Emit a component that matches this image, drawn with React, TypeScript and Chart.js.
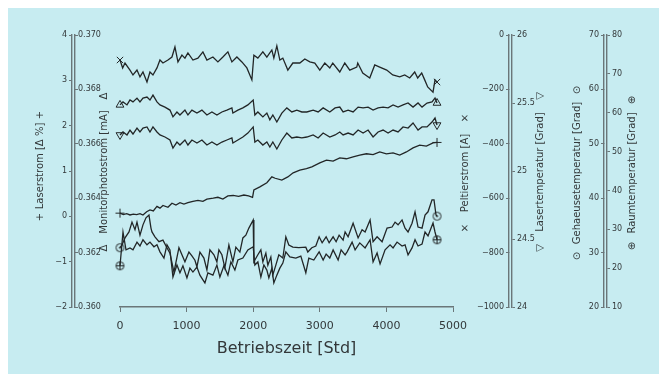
import React, { useEffect, useRef } from "react";
import { Chart, registerables } from "chart.js";

Chart.register(...registerables);

// ---------- tick values ----------
const xTicks = [0, 1000, 2000, 3000, 4000, 5000];
const laserstromTicks = [-2, -1, 0, 1, 2, 3, 4];
const monitorTicks = [0.36, 0.362, 0.364, 0.366, 0.368, 0.37];
const peltierTicks = [-1000, -800, -600, -400, -200, 0];
const lasertempTicks = [24, 24.5, 25, 25.5, 26];
const gehaeuseTicks = [20, 30, 40, 50, 60, 70];
const raumTicks = [10, 20, 30, 40, 50, 60, 70, 80];

// ---------- axis titles ----------
const xTitle = "Betriebszeit [Std]";
const axisTitles = [
  { text: "Laserstrom [Δ %]", marker: "+" },
  { text: "Monitorphotostrom [mA]", marker: "Δ" },
  { text: "Peltierstrom [A]", marker: "×" },
  { text: "Lasertemperatur [Grad]", marker: "▽" },
  { text: "Gehaeusetemperatur [Grad]", marker: "⊙" },
  { text: "Raumtemperatur [Grad]", marker: "⊕" },
];

// ---------- series (x = Betriebszeit in Std) ----------
const peltierHours = [0, 40, 75, 150, 195, 255, 300, 345, 405, 450, 495, 555, 600, 645, 720, 780, 825, 870, 930, 975, 1020, 1095, 1170, 1245, 1305, 1395, 1470, 1545, 1620, 1680, 1755, 1830, 1905, 1980, 2010, 2070, 2145, 2205, 2280, 2310, 2355, 2400, 2445, 2520, 2595, 2700, 2775, 2850, 2925, 3000, 3075, 3150, 3195, 3300, 3375, 3450, 3555, 3570, 3645, 3750, 3825, 3900, 4005, 4095, 4200, 4275, 4350, 4425, 4470, 4530, 4575, 4620, 4700, 4730, 4760];
const peltierValues = [-92, -121, -103, -129, -147, -129, -154, -136, -173, -136, -147, -121, -92, -103, -92, -81, -44, -99, -74, -85, -66, -92, -85, -62, -92, -81, -99, -81, -62, -99, -81, -99, -121, -165, -74, -85, -62, -81, -55, -85, -40, -92, -85, -129, -103, -103, -88, -99, -103, -129, -103, -121, -103, -136, -103, -129, -118, -103, -140, -158, -110, -118, -129, -147, -154, -147, -158, -136, -158, -140, -165, -191, -210, -165, -173];

const monitorHours = [0, 45, 105, 150, 195, 255, 300, 345, 405, 450, 495, 555, 600, 675, 750, 795, 855, 900, 975, 1020, 1080, 1155, 1230, 1305, 1380, 1455, 1530, 1605, 1680, 1695, 1770, 1845, 1920, 2000, 2025, 2070, 2145, 2205, 2250, 2295, 2355, 2430, 2505, 2580, 2655, 2730, 2805, 2900, 2975, 3050, 3150, 3230, 3300, 3350, 3425, 3500, 3575, 3650, 3725, 3800, 3875, 3950, 4025, 4100, 4175, 4250, 4325, 4400, 4475, 4535, 4610, 4685, 4730, 4760];
const monitorValues = [0.36743, 0.36754, 0.36743, 0.36761, 0.36754, 0.36768, 0.36754, 0.36768, 0.36772, 0.36761, 0.36779, 0.36754, 0.36743, 0.36735, 0.36724, 0.36699, 0.36717, 0.36706, 0.36724, 0.36706, 0.36724, 0.36713, 0.36724, 0.36706, 0.36717, 0.36706, 0.36717, 0.36724, 0.36732, 0.36713, 0.36724, 0.36732, 0.36743, 0.36761, 0.36706, 0.36717, 0.36699, 0.36713, 0.36688, 0.36706, 0.3668, 0.36713, 0.36732, 0.36717, 0.36724, 0.36717, 0.36717, 0.36724, 0.36717, 0.36732, 0.36717, 0.36732, 0.36735, 0.36717, 0.36724, 0.36717, 0.36735, 0.36732, 0.36735, 0.36724, 0.36732, 0.36735, 0.36732, 0.36743, 0.36735, 0.36743, 0.3675, 0.36735, 0.3675, 0.36735, 0.3675, 0.36754, 0.36768, 0.3675];

const lasertempHours = [0, 45, 105, 150, 195, 255, 300, 345, 405, 450, 495, 555, 600, 675, 750, 795, 855, 900, 975, 1020, 1080, 1155, 1230, 1305, 1380, 1455, 1530, 1605, 1680, 1695, 1770, 1845, 1920, 2000, 2025, 2070, 2145, 2205, 2250, 2295, 2355, 2430, 2505, 2580, 2655, 2730, 2805, 2900, 2975, 3050, 3150, 3230, 3300, 3350, 3425, 3500, 3575, 3650, 3725, 3800, 3875, 3950, 4025, 4100, 4175, 4250, 4325, 4400, 4475, 4535, 4610, 4685, 4730, 4760];
const lasertempValues = [25.265, 25.287, 25.265, 25.301, 25.272, 25.316, 25.287, 25.316, 25.324, 25.287, 25.324, 25.287, 25.265, 25.25, 25.228, 25.169, 25.213, 25.191, 25.228, 25.191, 25.228, 25.206, 25.228, 25.191, 25.213, 25.191, 25.213, 25.228, 25.243, 25.206, 25.228, 25.25, 25.279, 25.324, 25.213, 25.228, 25.191, 25.213, 25.176, 25.213, 25.162, 25.228, 25.279, 25.243, 25.25, 25.243, 25.25, 25.265, 25.243, 25.279, 25.25, 25.265, 25.287, 25.265, 25.279, 25.265, 25.301, 25.279, 25.301, 25.25, 25.287, 25.301, 25.279, 25.301, 25.287, 25.324, 25.316, 25.353, 25.301, 25.324, 25.324, 25.36, 25.39, 25.338];

const laserstromHours = [0, 50, 100, 150, 200, 250, 300, 345, 400, 450, 500, 555, 600, 645, 720, 780, 840, 900, 960, 1020, 1095, 1170, 1245, 1305, 1400, 1470, 1545, 1620, 1700, 1780, 1860, 1930, 1990, 2010, 2100, 2205, 2280, 2330, 2430, 2520, 2600, 2700, 2800, 2880, 3000, 3100, 3200, 3300, 3400, 3500, 3600, 3700, 3800, 3900, 4000, 4100, 4200, 4300, 4400, 4500, 4600, 4700, 4760];
const laserstromValues = [0.07, 0.04, 0.06, 0.03, 0.05, 0.04, 0.06, 0.03, 0.1, 0.14, 0.12, 0.22, 0.18, 0.24, 0.2, 0.29, 0.25, 0.3, 0.27, 0.3, 0.33, 0.35, 0.33, 0.38, 0.4, 0.42, 0.38, 0.45, 0.46, 0.44, 0.47, 0.45, 0.42, 0.58, 0.65, 0.74, 0.87, 0.84, 0.8, 0.87, 0.96, 1.02, 1.05, 1.09, 1.18, 1.24, 1.22, 1.29, 1.27, 1.31, 1.35, 1.38, 1.36, 1.42, 1.38, 1.4, 1.35, 1.42, 1.51, 1.57, 1.55, 1.62, 1.63];

const gehaeuseHours = [0, 30, 75, 135, 180, 225, 255, 300, 345, 390, 435, 465, 480, 525, 585, 645, 705, 750, 810, 885, 930, 975, 1035, 1080, 1125, 1155, 1200, 1260, 1305, 1350, 1410, 1455, 1485, 1530, 1575, 1635, 1695, 1740, 1800, 1845, 1890, 1935, 2000, 2010, 2070, 2115, 2145, 2190, 2220, 2265, 2295, 2340, 2385, 2445, 2490, 2535, 2595, 2685, 2790, 2820, 2880, 2940, 2990, 3035, 3095, 3140, 3200, 3245, 3290, 3350, 3380, 3425, 3500, 3575, 3635, 3680, 3755, 3800, 3860, 3935, 4010, 4085, 4130, 4175, 4235, 4280, 4325, 4385, 4430, 4475, 4535, 4580, 4625, 4685, 4715, 4745, 4760];
const gehaeuseValues = [30.9, 31.4, 32.7, 33.8, 35.6, 34.2, 35.6, 33.2, 35.1, 36.4, 36.9, 34.5, 33.8, 32.9, 32.0, 32.3, 30.9, 29.9, 26.4, 30.9, 29.6, 28.3, 30.1, 29.4, 28.6, 27.4, 30.1, 29.0, 26.8, 30.5, 29.6, 28.3, 30.5, 29.6, 27.2, 31.4, 28.3, 31.0, 30.1, 32.7, 33.2, 34.5, 36.0, 28.3, 29.6, 30.5, 28.3, 29.9, 27.7, 29.2, 25.9, 27.7, 29.6, 29.0, 32.9, 31.4, 31.0, 30.9, 31.0, 30.1, 30.9, 31.2, 32.9, 31.8, 32.9, 31.8, 32.9, 32.0, 33.2, 32.3, 33.8, 32.9, 35.4, 32.7, 34.2, 33.8, 36.0, 32.0, 32.9, 32.0, 34.5, 34.7, 35.6, 35.1, 36.0, 34.5, 33.8, 35.4, 37.5, 34.7, 34.5, 36.9, 37.5, 39.7, 39.7, 36.9, 36.7];

const raumHours = [0, 45, 90, 150, 195, 255, 300, 345, 405, 450, 510, 555, 600, 660, 705, 750, 795, 855, 900, 945, 1005, 1050, 1095, 1155, 1200, 1245, 1275, 1320, 1395, 1455, 1500, 1560, 1620, 1665, 1725, 1770, 1845, 1920, 2000, 2025, 2070, 2115, 2160, 2205, 2235, 2280, 2310, 2355, 2400, 2445, 2490, 2550, 2640, 2715, 2790, 2835, 2910, 2990, 3050, 3095, 3150, 3200, 3275, 3320, 3380, 3410, 3485, 3530, 3600, 3680, 3755, 3800, 3860, 3905, 3980, 4055, 4100, 4160, 4235, 4280, 4325, 4385, 4430, 4475, 4535, 4580, 4625, 4700, 4730, 4760];
const raumValues = [20.6, 29.3, 24.7, 25.2, 24.7, 26.7, 25.7, 27.3, 26.0, 26.7, 25.5, 26.0, 24.2, 22.6, 26.0, 24.7, 17.7, 20.8, 18.8, 20.6, 17.5, 20.0, 19.0, 20.3, 18.2, 17.0, 16.2, 18.8, 18.2, 20.8, 17.7, 20.6, 18.2, 21.6, 19.5, 22.1, 22.6, 24.7, 25.5, 20.8, 21.6, 17.7, 20.8, 19.5, 17.5, 20.0, 16.2, 18.2, 20.0, 21.3, 24.2, 22.9, 22.6, 23.1, 18.8, 22.6, 22.1, 24.2, 22.1, 23.6, 22.6, 24.7, 22.1, 24.7, 23.4, 24.2, 26.7, 24.7, 26.5, 25.2, 27.3, 21.6, 23.9, 21.1, 24.7, 26.0, 25.2, 26.7, 25.7, 26.0, 23.4, 25.2, 27.3, 25.7, 26.2, 29.3, 28.3, 31.6, 29.3, 27.3];

// ---------- styling / layout ----------
const FONT = "'DejaVu Sans', 'Noto Sans', sans-serif";
const BG = "#c7ecf1";
const LINE = "#222627";
const AXIS = "#6a7679";
const TEXT = "#33383a";
const W = 651;
const H = 366;
const OFF = 8; // container offset inside the page

// rotated axis-title placement (page coordinates)
const titleLayout = [
  { x: 40, y: 166, gap: 51 },
  { x: 104, y: 172, gap: 76 },
  { x: 465, y: 173, gap: 55 },
  { x: 540, y: 172, gap: 76 },
  { x: 577, y: 173, gap: 83 },
  { x: 632, y: 173, gap: 73 },
];

const minus = (v: number) => (v < 0 ? "\u2212" + String(Math.abs(v)) : String(v));

function yScale(o: any) {
  // left+mirror: label x = right + padding ; right+mirror: label x = left + padding
  const pad = o.mirror ? (o.position === "left" ? 3 : -5) : 2;
  return {
    type: "linear",
    position: o.position,
    weight: o.weight,
    min: o.min,
    max: o.max,
    afterBuildTicks: (s: any) => {
      s.ticks = o.ticks.map((v: number) => ({ value: v }));
    },
    afterFit: (s: any) => {
      s.width = o.width;
    },
    grid: {
      display: true,
      drawOnChartArea: false,
      drawTicks: true,
      tickLength: o.mirror ? -3 : 3,
      color: AXIS,
      lineWidth: 1,
    },
    border: { display: true, color: AXIS, width: 1.4 },
    ticks: {
      mirror: o.mirror,
      padding: pad,
      autoSkip: false,
      color: TEXT,
      font: { family: FONT, size: 8 },
      callback: (v: number) => o.fmt(v),
    },
  };
}

function spacer(position: string, weight: number, width: number) {
  return {
    type: "linear",
    position,
    weight,
    display: true,
    grid: { display: false },
    border: { display: false },
    ticks: { display: false },
    afterFit: (s: any) => {
      s.width = width;
    },
  };
}

function makeMarker(kind: string): HTMLCanvasElement {
  const size = 11;
  const c = document.createElement("canvas");
  c.width = size;
  c.height = size;
  const g = c.getContext("2d")!;
  const m = size / 2;
  g.strokeStyle = LINE;
  g.fillStyle = LINE;
  g.lineWidth = 1;
  g.beginPath();
  g.arc(m, m, 4, 0, Math.PI * 2);
  g.stroke();
  if (kind === "dot") {
    g.beginPath();
    g.arc(m, m, 1.1, 0, Math.PI * 2);
    g.fill();
  } else {
    g.beginPath();
    g.moveTo(m - 4, m);
    g.lineTo(m + 4, m);
    g.moveTo(m, m - 4);
    g.lineTo(m, m + 4);
    g.stroke();
  }
  return c;
}

function series(label: string, hours: number[], values: number[], yAxisID: string, pointStyle: any, rotation = 0) {
  return {
    label,
    yAxisID,
    xAxisID: "x",
    data: hours.map((h, i) => ({ x: h, y: values[i] })),
    borderColor: LINE,
    borderWidth: 1.3,
    backgroundColor: "transparent",
    fill: false,
    tension: 0,
    clip: false,
    pointStyle,
    pointRotation: rotation,
    pointRadius: (c: any) => (c.dataIndex === 0 || c.dataIndex === c.dataset.data.length - 1 ? 4.5 : 0),
    pointHoverRadius: 0,
    pointBorderColor: LINE,
    pointBorderWidth: 1,
    pointBackgroundColor: "transparent",
  };
}

const titlePlugin = {
  id: "rotatedTitles",
  afterDraw(chart: any) {
    const ctx = chart.ctx;
    ctx.save();
    ctx.fillStyle = TEXT;
    ctx.font = `10px ${FONT}`;
    ctx.textAlign = "center";
    ctx.textBaseline = "middle";
    titleLayout.forEach((p, i) => {
      const t = axisTitles[i];
      ctx.save();
      ctx.translate(p.x - OFF, p.y - OFF);
      ctx.rotate(-Math.PI / 2);
      ctx.fillText(t.text, 0, 0);
      ctx.fillText(t.marker, -p.gap, 0);
      ctx.fillText(t.marker, p.gap, 0);
      ctx.restore();
    });
    ctx.restore();
  },
};

export default function App() {
  const ref = useRef<HTMLCanvasElement | null>(null);

  useEffect(() => {
    if (!ref.current) return;
    const dotMarker = makeMarker("dot");
    const plusMarker = makeMarker("plus");

    const chart = new Chart(ref.current, {
      type: "line",
      data: {
        datasets: [
          series("Peltierstrom", peltierHours, peltierValues, "yPelt", "crossRot"),
          series("Monitorphotostrom", monitorHours, monitorValues, "yMon", "triangle"),
          series("Lasertemperatur", lasertempHours, lasertempValues, "yLtemp", "triangle", 180),
          series("Laserstrom", laserstromHours, laserstromValues, "yLaser", "cross"),
          series("Gehaeusetemperatur", gehaeuseHours, gehaeuseValues, "yGeh", dotMarker),
          series("Raumtemperatur", raumHours, raumValues, "yRaum", plusMarker),
        ] as any,
      },
      plugins: [titlePlugin],
      options: {
        animation: false,
        responsive: false,
        devicePixelRatio: 1,
        events: [],
        layout: { padding: { top: 27, left: 0, right: 0, bottom: 0 } },
        plugins: { legend: { display: false }, tooltip: { enabled: false } },
        scales: {
          x: {
            type: "linear",
            position: "bottom",
            min: 0,
            max: 5000,
            afterBuildTicks: (s: any) => {
              s.ticks = xTicks.map((v) => ({ value: v }));
            },
            afterFit: (s: any) => {
              s.height = 67;
            },
            grid: { display: true, drawOnChartArea: false, tickLength: 5, color: AXIS, lineWidth: 1 },
            border: { display: true, color: AXIS, width: 1.4 },
            ticks: {
              autoSkip: false,
              maxRotation: 0,
              padding: 8,
              color: TEXT,
              font: { family: FONT, size: 11 },
              callback: (v: number) => String(v),
            },
            title: {
              display: true,
              text: xTitle,
              color: TEXT,
              font: { family: FONT, size: 16 },
              padding: { top: 0, bottom: 16 },
            },
          },
          yLaser: yScale({ position: "left", weight: 3, width: 64, min: -2, max: 4, ticks: laserstromTicks, mirror: false, fmt: minus }),
          yMon: yScale({ position: "left", weight: 2, width: 3, min: 0.36, max: 0.37, ticks: monitorTicks, mirror: true, fmt: (v: number) => v.toFixed(3) }),
          ySpL: spacer("left", 1, 45),
          ySpR: spacer("right", 1, 56),
          yPelt: yScale({ position: "right", weight: 2, width: 3, min: -1000, max: 0, ticks: peltierTicks, mirror: true, fmt: minus }),
          yLtemp: yScale({ position: "right", weight: 3, width: 92, min: 24, max: 26, ticks: lasertempTicks, mirror: false, fmt: (v: number) => String(v) }),
          yGeh: yScale({ position: "right", weight: 4, width: 3, min: 20, max: 70, ticks: gehaeuseTicks, mirror: true, fmt: (v: number) => String(v) }),
          yRaum: yScale({ position: "right", weight: 5, width: 52, min: 10, max: 80, ticks: raumTicks, mirror: false, fmt: (v: number) => String(v) }),
        } as any,
      },
    } as any);

    return () => chart.destroy();
  }, []);

  return (
    <div style={{ position: "fixed", left: OFF, top: OFF, width: W, height: H, background: BG }}>
      <canvas ref={ref} width={W} height={H} style={{ display: "block", width: W, height: H }} />
    </div>
  );
}
